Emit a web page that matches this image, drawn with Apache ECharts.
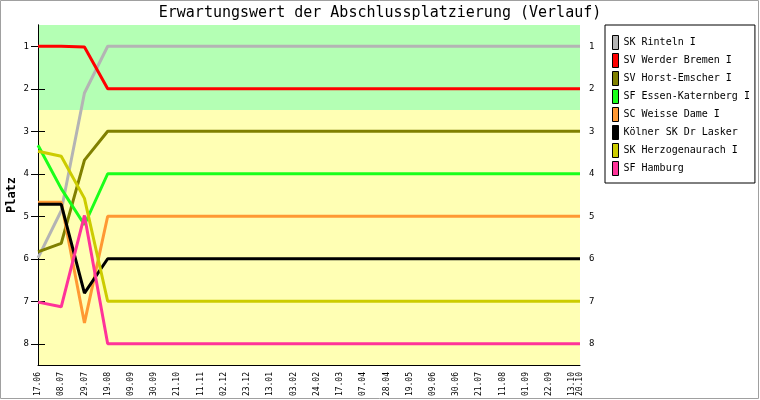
<!DOCTYPE html>
<html>
<head>
<meta charset="utf-8">
<script src="https://cdn.jsdelivr.net/npm/echarts@6/dist/echarts.min.js"></script>
<style>
  html, body { margin: 0; padding: 0; background: #fff; }
  #chart { width: 760px; height: 400px; }
</style>
</head>
<body>
<div id="chart"></div>
<script>
// day offsets of the sampled points (17.06, 08.07, 29.07, 19.08, 20.10)
var xDays = [0, 21, 42, 63, 490];
var dateLabels = ["17.06", "08.07", "29.07", "19.08", "09.09", "30.09", "21.10", "11.11",
  "02.12", "23.12", "13.01", "03.02", "24.02", "17.03", "07.04", "28.04", "19.05",
  "09.06", "30.06", "21.07", "11.08", "01.09", "22.09", "13.10", "20.10"];
var placeTicks = [1, 2, 3, 4, 5, 6, 7, 8];
var teams = ["SK Rinteln I", "SV Werder Bremen I", "SV Horst-Emscher I", "SF Essen-Katernberg I",
  "SC Weisse Dame I", "Kölner SK Dr Lasker", "SK Herzogenaurach I", "SF Hamburg"];
var rinteln = [5.98, 4.87, 2.1, 1, 1];
var werder = [1, 1, 1.02, 2, 2];
var horst = [5.84, 5.64, 3.68, 3, 3];
var essen = [3.33, 4.35, 5.2, 4, 4];
var weisse = [4.67, 4.67, 7.51, 5, 5];
var koeln = [4.72, 4.72, 6.81, 6, 6];
var herzo = [3.47, 3.59, 4.58, 7, 7];
var hamburg = [7.02, 7.13, 4.98, 8, 8];
var colors = ["#b4b4b4", "#ff0000", "#808000", "#1aff1a", "#ff9933", "#000000", "#cccc00", "#ff3399"];

var allValues = [rinteln, werder, horst, essen, weisse, koeln, herzo, hamburg];
var mono = "DejaVu Sans Mono";
var lastDay = xDays[xDays.length - 1];

function pairs(vals) {
  return vals.map(function (v, i) { return [xDays[i], v]; });
}

var series = teams.map(function (name, i) {
  var s = {
    name: name,
    type: "line",
    data: pairs(allValues[i]),
    showSymbol: false,
    lineStyle: { width: 3, color: colors[i] },
    itemStyle: { color: colors[i] },
    animation: false
  };
  if (i === 0) {
    s.markArea = {
      silent: true,
      z: -1,
      data: [
        [{ yAxis: 0.5, itemStyle: { color: "#b4ffb4" } }, { yAxis: 2.5 }],
        [{ yAxis: 2.5, itemStyle: { color: "#ffffb4" } }, { yAxis: 8.5 }]
      ]
    };
  }
  return s;
});

function placeAxis(pos) {
  return {
    type: "value",
    inverse: true,
    position: pos,
    min: 0.5,
    max: 8.5,
    axisLine: { show: true, lineStyle: { color: "#000" } },
    axisTick: { show: true, length: 7, customValues: placeTicks, lineStyle: { color: "#000" } },
    splitLine: { show: false },
    axisLabel: {
      fontFamily: mono, fontSize: 9, color: "#000", margin: 9,
      customValues: placeTicks
    }
  };
}

var dateLabelStyle = {
  rotate: 90,
  margin: 7,
  fontFamily: mono,
  fontSize: 8,
  color: "#000"
};

var myChart = echarts.init(document.getElementById("chart"));
var option = {
  animation: false,
  title: {
    text: "Erwartungswert der Abschlussplatzierung (Verlauf)",
    left: "center",
    top: 1,
    textStyle: { fontFamily: mono, fontSize: 15, fontWeight: "normal", color: "#000" }
  },
  legend: {
    orient: "vertical",
    left: 605,
    top: 25,
    padding: [10, 5, 7, 7],
    itemWidth: 6,
    itemHeight: 14,
    itemGap: 3,
    icon: "rect",
    backgroundColor: "#fff",
    borderColor: "#000",
    borderWidth: 1,
    itemStyle: { borderColor: "#000", borderWidth: 1 },
    textStyle: { fontFamily: mono, fontSize: 10, color: "#000" },
    data: teams
  },
  grid: { left: 38, right: 180, top: 25, bottom: 35, outerBoundsMode: "none" },
  xAxis: [
    {
      type: "value",
      position: "bottom",
      min: 0,
      max: lastDay,
      interval: 21,
      axisLine: { show: true, lineStyle: { color: "#000", width: 1 } },
      axisTick: { show: false },
      splitLine: { show: false },
      axisLabel: Object.assign({}, dateLabelStyle, {
        showMinLabel: true,
        showMaxLabel: false,
        formatter: function (v) { return dateLabels[Math.round(v / 21)]; }
      })
    },
    {
      // only carries the final date label, which sits right next to 13.10
      type: "value",
      position: "bottom",
      min: 0,
      max: lastDay,
      axisLine: { show: false },
      axisTick: { show: false },
      splitLine: { show: false },
      axisLabel: Object.assign({}, dateLabelStyle, {
        customValues: [lastDay],
        formatter: function () { return dateLabels[dateLabels.length - 1]; }
      })
    }
  ],
  yAxis: [placeAxis("left"), placeAxis("right")],
  graphic: [
    {
      type: "rect",
      shape: { x: 0.5, y: 0.5, width: 758, height: 398 },
      style: { fill: null, stroke: "#a0a0a0", lineWidth: 1 },
      silent: true
    },
    {
      // y axis title
      type: "text",
      x: 12,
      y: 195,
      rotation: Math.PI / 2,
      style: {
        text: "Platz",
        fontFamily: mono,
        fontSize: 12,
        fontWeight: "bold",
        fill: "#000",
        align: "center",
        verticalAlign: "middle"
      },
      silent: true
    }
  ],
  series: series
};
myChart.setOption(option);
</script>
</body>
</html>
